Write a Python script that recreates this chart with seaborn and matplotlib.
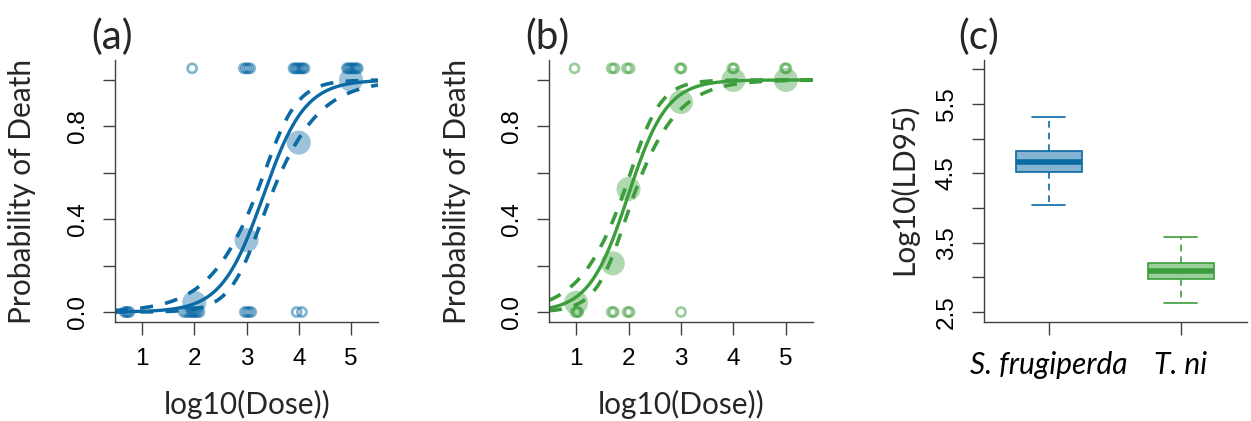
import numpy as np
import pandas as pd
import seaborn as sns
import matplotlib.pyplot as plt
from matplotlib.colors import to_rgba

sns.set_style("ticks")
plt.rcParams["font.family"] = ["Liberation Sans", "DejaVu Sans"]

blue = "#0b6aa4"
green = "#3b9e3b"

# (a) S. frugiperda: observed proportion dead at each log10(dose)
a_dose = [2, 3, 4, 5]
a_prop = [0.04, 0.31, 0.73, 1.0]
# individual insects (jittered log10 dose): dead shown at top, alive at 0
a_dead_x = [1.96, 2.95, 2.99, 3.03, 3.07, 3.90, 3.93, 3.96, 3.99, 4.02, 4.05, 4.08, 4.11,
            4.92, 4.95, 4.98, 5.01, 5.04, 5.07, 5.10, 5.13]
a_alive_x = [0.67, 0.70, 0.73, 0.76, 1.80, 1.85, 1.90, 1.94, 1.97, 2.00, 2.03, 2.06, 2.10,
             2.97, 3.01, 3.05, 3.09, 3.96, 4.06]
# fitted logistic: midpoint, slope, standard-error terms for the 95% band
a_mid, a_slope, a_se0, a_se1 = 3.32, 2.5, 0.18, 0.38

# (b) T. ni
b_dose = [1.0, 1.7, 2.0, 3.0, 4.0, 5.0]
b_prop = [0.04, 0.21, 0.53, 0.905, 1.0, 1.0]
b_dead_x = [0.97, 1.68, 1.73, 1.97, 2.02, 2.98, 3.01, 3.98, 4.01, 4.98, 5.01]
b_alive_x = [0.99, 1.02, 1.04, 1.68, 1.72, 1.98, 2.02, 3.0]
b_mid, b_slope, b_se0, b_se1 = 1.99, 2.7, 0.14, 0.37

# (c) log10(LD95): min, Q1, median, Q3, max
species = ["S. frugiperda", "T. ni"]
sf_ld95 = [4.05, 4.52, 4.66, 4.82, 5.31]
tn_ld95 = [2.63, 2.97, 3.09, 3.20, 3.58]

W, H = 1251, 421
fig = plt.figure(figsize=(W / 100, H / 100), dpi=100)


def px_axes(l, t, r, b):
    return fig.add_axes([l / W, 1 - b / H, (r - l) / W, (b - t) / H])


title_font = dict(family="Lato", size=21.5)
tick_font = 17.5
spine_c = "#404040"


def style(ax):
    sns.despine(ax=ax)
    for s in ["left", "bottom"]:
        ax.spines[s].set_color(spine_c)
        ax.spines[s].set_linewidth(1.0)
    ax.tick_params(length=9, width=1.0, color=spine_c, pad=10, labelsize=tick_font,
                   labelcolor="black")
    ax.tick_params(axis="y", labelrotation=90)
    for lab in ax.get_yticklabels():
        lab.set_va("center")


def inv_logit(z):
    return 1 / (1 + np.exp(-z))


def dose_panel(ax, color, dose, prop, dead_x, alive_x, mid, slope, se0, se1, ylab_x):
    xlo, xhi = 0.484, 5.516
    grid = np.linspace(xlo, xhi, 300)
    eta = slope * (grid - mid)
    se = np.sqrt(se0 ** 2 + (se1 * (grid - mid)) ** 2)
    sns.lineplot(x=grid, y=inv_logit(eta), color=color, lw=2.4, ax=ax)
    for sign in (1, -1):
        sns.lineplot(x=grid, y=inv_logit(eta + sign * 1.96 * se), color=color, lw=2.6,
                     linestyle=(0, (3.6, 3.4)), ax=ax)
    sns.scatterplot(x=dose, y=prop, s=300, color=color, alpha=0.4, edgecolor="none",
                    ax=ax, zorder=3)
    for xs, yv in ((dead_x, 1.05), (alive_x, 0.0)):
        sns.scatterplot(x=xs, y=[yv] * len(xs), s=42, facecolor="none",
                        edgecolor=color, linewidth=2.0, alpha=0.5, ax=ax, zorder=4)
    ax.set_xlim(xlo, xhi)
    ax.set_ylim(-0.043, 1.086)
    ax.set_xticks([1, 2, 3, 4, 5])
    ax.set_yticks([0, 0.2, 0.4, 0.6, 0.8, 1.0])
    ax.set_yticklabels(["0.0", "", "0.4", "", "0.8", ""])
    style(ax)
    ax.set_xlabel("log10(Dose))", **title_font)
    ax.set_ylabel("Probability of Death", **title_font)
    ax.xaxis.set_label_coords(0.502, -0.26)
    ax.yaxis.set_label_coords(ylab_x, 0.5)


ax1 = px_axes(115, 60, 378, 322)
dose_panel(ax1, blue, a_dose, a_prop, a_dead_x, a_alive_x,
           a_mid, a_slope, a_se0, a_se1, -0.30)
ax2 = px_axes(549, 60, 813, 322)
dose_panel(ax2, green, b_dose, b_prop, b_dead_x, b_alive_x,
           b_mid, b_slope, b_se0, b_se1, -0.295)

# (c) boxplot
ax3 = px_axes(984, 60, 1247, 322)
df = pd.DataFrame({"species": [species[0]] * len(sf_ld95) + [species[1]] * len(tn_ld95),
                   "ld95": sf_ld95 + tn_ld95})
sns.boxplot(data=df, x="species", y="ld95", hue="species", palette=[blue, green],
            saturation=1, width=0.5, whis=(0, 100), fliersize=0, linewidth=1.2,
            legend=False, ax=ax3,
            whiskerprops={"linestyle": (0, (4, 3))}, medianprops={"linewidth": 4})
cols = [blue, green]
for p in ax3.patches:
    verts = p.get_path().vertices
    i = 0 if verts[:, 0].mean() < 0.5 else 1
    p.set_facecolor(to_rgba(cols[i], 0.5))
    p.set_edgecolor(cols[i])
for ln in ax3.lines:
    xd = np.asarray(ln.get_xdata(), dtype=float)
    if len(xd) == 0:
        continue
    i = 0 if xd.mean() < 0.5 else 1
    ln.set_color(cols[i])
ax3.set_xlim(-0.49, 1.5)
ax3.set_ylim(2.356, 6.135)
ax3.set_yticks([2.5, 3.0, 3.5, 4.0, 4.5, 5.0, 5.5, 6.0])
ax3.set_yticklabels(["2.5", "", "3.5", "", "4.5", "", "5.5", ""])
style(ax3)
ax3.tick_params(axis="x", pad=12)
ax3.set_xticks([0, 1])
ax3.set_xticklabels(species, family="Lato", style="italic", size=21.5)
ax3.set_xlabel("")
ax3.set_ylabel("Log10(LD95)", **title_font)
ax3.yaxis.set_label_coords(-0.25, 0.508)

for lab, xc in zip(["(a)", "(b)", "(c)"], [112, 547, 979]):
    fig.text(xc / W, 1 - 37 / H, lab, ha="center", va="center", family="Lato", size=29)

fig.savefig("out.png", dpi=100)
